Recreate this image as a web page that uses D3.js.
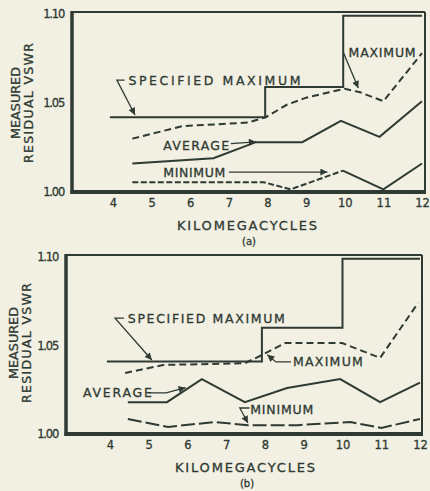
<!DOCTYPE html>
<html>
<head>
<meta charset="utf-8">
<script src="https://cdn.jsdelivr.net/npm/d3@7"></script>
<style>
  body { margin: 0; background: #f2efe3; }
  svg { display: block; }
  text { font-family: "DejaVu Sans", "Liberation Sans", Arial, sans-serif; fill: #2e3a32; stroke: #2e3a32; stroke-width: 0.3px; }
</style>
</head>
<body>
<svg id="chart" width="430" height="491"></svg>
<script>
// axis ticks
var kmcTicks = [4, 5, 6, 7, 8, 9, 10, 11, 12];
var vswrTicks = [1.00, 1.05, 1.10];
var vswrTickLabels = ["1.00", "1.05", "1.10"];

// panel (a) series, kilomegacycles vs residual VSWR
var specFreqA = [3.92, 7.94, 9.96, 12];
var specVswrA = [1.042, 1.059, 1.099, 1.099];
var maxFreqA = [4.5, 5.8, 7.5, 7.95, 8.5, 9, 9.6, 10, 10.4, 11, 12];
var maxVswrA = [1.030, 1.037, 1.039, 1.042, 1.049, 1.053, 1.056, 1.058, 1.056, 1.051, 1.078];
var avgFreqA = [4.5, 6.6, 7.7, 8.9, 9.9, 10.9, 12];
var avgVswrA = [1.016, 1.019, 1.028, 1.028, 1.040, 1.031, 1.051];
var minFreqA = [4.5, 7.9, 8.6, 9.95, 11, 12];
var minVswrA = [1.0055, 1.0055, 1.0015, 1.012, 1.0015, 1.016];

// panel (b) series
var specFreqB = [3.92, 7.92, 10.0, 12];
var specVswrB = [1.041, 1.060, 1.099, 1.099];
var maxFreqB = [4.39, 5.37, 7.48, 7.92, 8.52, 9.99, 10.97, 11.95];
var maxVswrB = [1.0345, 1.039, 1.040, 1.0446, 1.0514, 1.0514, 1.043, 1.074];
var avgFreqB = [4.46, 5.47, 6.37, 7.48, 8.57, 9.94, 10.97, 12];
var avgVswrB = [1.018, 1.018, 1.031, 1.018, 1.026, 1.031, 1.018, 1.029];
var minFreqB = [4.46, 5.5, 6.7, 7.56, 8.85, 10.2, 11.0, 12];
var minVswrB = [1.0085, 1.004, 1.0068, 1.005, 1.005, 1.0068, 1.0034, 1.0085];

var ink = "#2e3a32";
var svg = d3.select("#chart");

svg.append("defs").append("marker")
  .attr("id", "arrow")
  .attr("viewBox", "0 0 10 10")
  .attr("refX", 10).attr("refY", 5)
  .attr("markerWidth", 9).attr("markerHeight", 7)
  .attr("markerUnits", "userSpaceOnUse")
  .attr("orient", "auto")
  .append("path")
  .attr("d", "M0,0L10,5L0,10z")
  .attr("fill", ink);

function zip(xs, ys) {
  return xs.map(function (d, i) { return [d, ys[i]]; });
}

/**
 * Draws one framed panel with its four curves and callouts.
 */
function drawPanel(cfg) {
  var x = d3.scaleLinear().domain([4, 12]).range([cfg.x4, cfg.x12]);
  var y = d3.scaleLinear().domain([1.00, 1.10]).range([cfg.bottom, cfg.yTop]);
  var g = svg.append("g");

  var line = d3.line().x(function (d) { return x(d[0]); }).y(function (d) { return y(d[1]); });
  var step = d3.line().curve(d3.curveStepAfter)
    .x(function (d) { return x(d[0]); }).y(function (d) { return y(d[1]); });

  //frame: heavy left and bottom, light top and right
  var f = cfg.frame;
  g.append("line").attr("x1", f.left).attr("x2", f.right).attr("y1", f.top).attr("y2", f.top)
    .attr("stroke", ink).attr("stroke-width", 2);
  g.append("line").attr("x1", f.right).attr("x2", f.right).attr("y1", f.top).attr("y2", cfg.bottom)
    .attr("stroke", ink).attr("stroke-width", 2);
  g.append("line").attr("x1", f.left).attr("x2", f.left).attr("y1", f.top - 1).attr("y2", cfg.bottom + 2)
    .attr("stroke", ink).attr("stroke-width", 3.5);
  g.append("line").attr("x1", f.left - 1.5).attr("x2", f.right + 1).attr("y1", cfg.bottom).attr("y2", cfg.bottom)
    .attr("stroke", ink).attr("stroke-width", 4);

  //axes
  var xAxis = g.append("g").attr("transform", "translate(0," + cfg.bottom + ")")
    .call(d3.axisBottom(x).tickValues(kmcTicks).tickSize(0).tickPadding(7));
  xAxis.select(".domain").remove();
  xAxis.selectAll("text").attr("font-size", 11.5).attr("fill", "#34423a")
    .style("font-family", "\"DejaVu Sans\", Arial, sans-serif");

  var yAxis = g.append("g").attr("transform", "translate(" + f.left + ",0)")
    .call(d3.axisLeft(y).tickValues(vswrTicks).tickSize(0).tickPadding(8)
      .tickFormat(function (d, i) { return vswrTickLabels[i]; }));
  yAxis.select(".domain").remove();
  yAxis.selectAll("text").attr("font-size", 11.5).attr("fill", "#34423a")
    .attr("letter-spacing", -1.2)
    .style("font-family", "\"DejaVu Sans\", Arial, sans-serif");

  //curves
  g.append("path").attr("d", step(zip(cfg.spec[0], cfg.spec[1])))
    .attr("fill", "none").attr("stroke", ink).attr("stroke-width", 2);

  cfg.series.forEach(function (s) {
    var pts = zip(s.freq, s.vswr);
    var cut = s.dashUntil == null ? pts.length - 1 : s.dashUntil;
    g.append("path").attr("d", line(pts.slice(0, cut + 1)))
      .attr("fill", "none").attr("stroke", ink).attr("stroke-width", 2)
      .attr("stroke-dasharray", s.dash || null);
    if (cut < pts.length - 1) {
      g.append("path").attr("d", line(pts.slice(cut)))
        .attr("fill", "none").attr("stroke", ink).attr("stroke-width", 2);
    }
  });

  //callouts
  cfg.notes.forEach(function (n) {
    g.append("text")
      .attr("x", x(n.at[0])).attr("y", y(n.at[1]))
      .attr("dy", "0.36em")
      .attr("font-size", 12.5)
      .attr("textLength", n.len).attr("lengthAdjust", "spacing")
      .text(n.text);
    g.append("path")
      .attr("d", line(n.path))
      .attr("fill", "none").attr("stroke", ink).attr("stroke-width", 1.3)
      .attr("marker-end", "url(#arrow)");
  });

  //axis titles
  g.append("text").attr("x", cfg.titleX).attr("y", cfg.bottom + 38)
    .attr("text-anchor", "middle").attr("font-size", 13)
    .attr("textLength", 140).attr("lengthAdjust", "spacing")
    .text("KILOMEGACYCLES");
  g.append("text").attr("x", cfg.titleX + 2).attr("y", cfg.bottom + 53)
    .attr("text-anchor", "middle").attr("font-size", 10)
    .text(cfg.tag);

  var yt = g.append("text").attr("text-anchor", "middle").attr("font-size", 12.5)
    .attr("transform", "translate(" + cfg.ytitleX + "," + cfg.ytitleY + ") rotate(-90)");
  yt.append("tspan").attr("x", 0).attr("dy", 0)
    .attr("textLength", 72).attr("lengthAdjust", "spacingAndGlyphs").text("MEASURED");
  yt.append("tspan").attr("x", 0).attr("dy", 13)
    .attr("textLength", 120).attr("lengthAdjust", "spacing").text("RESIDUAL VSWR");
}

drawPanel({
  x4: 113, x12: 422, bottom: 192, yTop: 14,
  frame: { left: 72, right: 425, top: 12 },
  titleX: 247, tag: "(a)", ytitleX: 20, ytitleY: 103,
  spec: [specFreqA, specVswrA],
  series: [
    { freq: maxFreqA, vswr: maxVswrA, dash: "7,4" },
    { freq: avgFreqA, vswr: avgVswrA },
    { freq: minFreqA, vswr: minVswrA, dash: "6,2.5", dashUntil: 3 }
  ],
  notes: [
    { text: "SPECIFIED MAXIMUM", at: [4.40, 1.0629], len: 172,
      path: [[4.30, 1.0629], [4.10, 1.0629], [4.57, 1.0433]] },
    { text: "MAXIMUM", at: [10.1, 1.0781], len: 67,
      path: [[9.97, 1.0781], [10.35, 1.0584]] },
    { text: "AVERAGE", at: [5.30, 1.0264], len: 66,
      path: [[7.05, 1.0272], [7.70, 1.0282]] },
    { text: "MINIMUM", at: [5.30, 1.0107], len: 62,
      path: [[7.0, 1.0112], [9.55, 1.0112]] }
  ]
});

drawPanel({
  x4: 110, x12: 420, bottom: 434, yTop: 257,
  frame: { left: 66, right: 422, top: 255 },
  titleX: 245, tag: "(b)", ytitleX: 18, ytitleY: 343,
  spec: [specFreqB, specVswrB],
  series: [
    { freq: maxFreqB, vswr: maxVswrB, dash: "7,4" },
    { freq: avgFreqB, vswr: avgVswrB },
    { freq: minFreqB, vswr: minVswrB, dash: "14,4" }
  ],
  notes: [
    { text: "SPECIFIED MAXIMUM", at: [4.46, 1.0655], len: 157,
      path: [[4.36, 1.0655], [4.13, 1.0655], [5.08, 1.0418]] },
    { text: "MAXIMUM", at: [8.72, 1.0407], len: 70,
      path: [[8.67, 1.0407], [8.28, 1.0407], [8.06, 1.0448]] },
    { text: "AVERAGE", at: [3.30, 1.0232], len: 69,
      path: [[4.99, 1.0232], [5.45, 1.0232], [5.95, 1.0262]] },
    { text: "MINIMUM", at: [7.62, 1.0136], len: 63,
      path: [[7.6, 1.0147], [7.35, 1.0147], [7.56, 1.0062]] }
  ]
});
</script>
</body>
</html>
